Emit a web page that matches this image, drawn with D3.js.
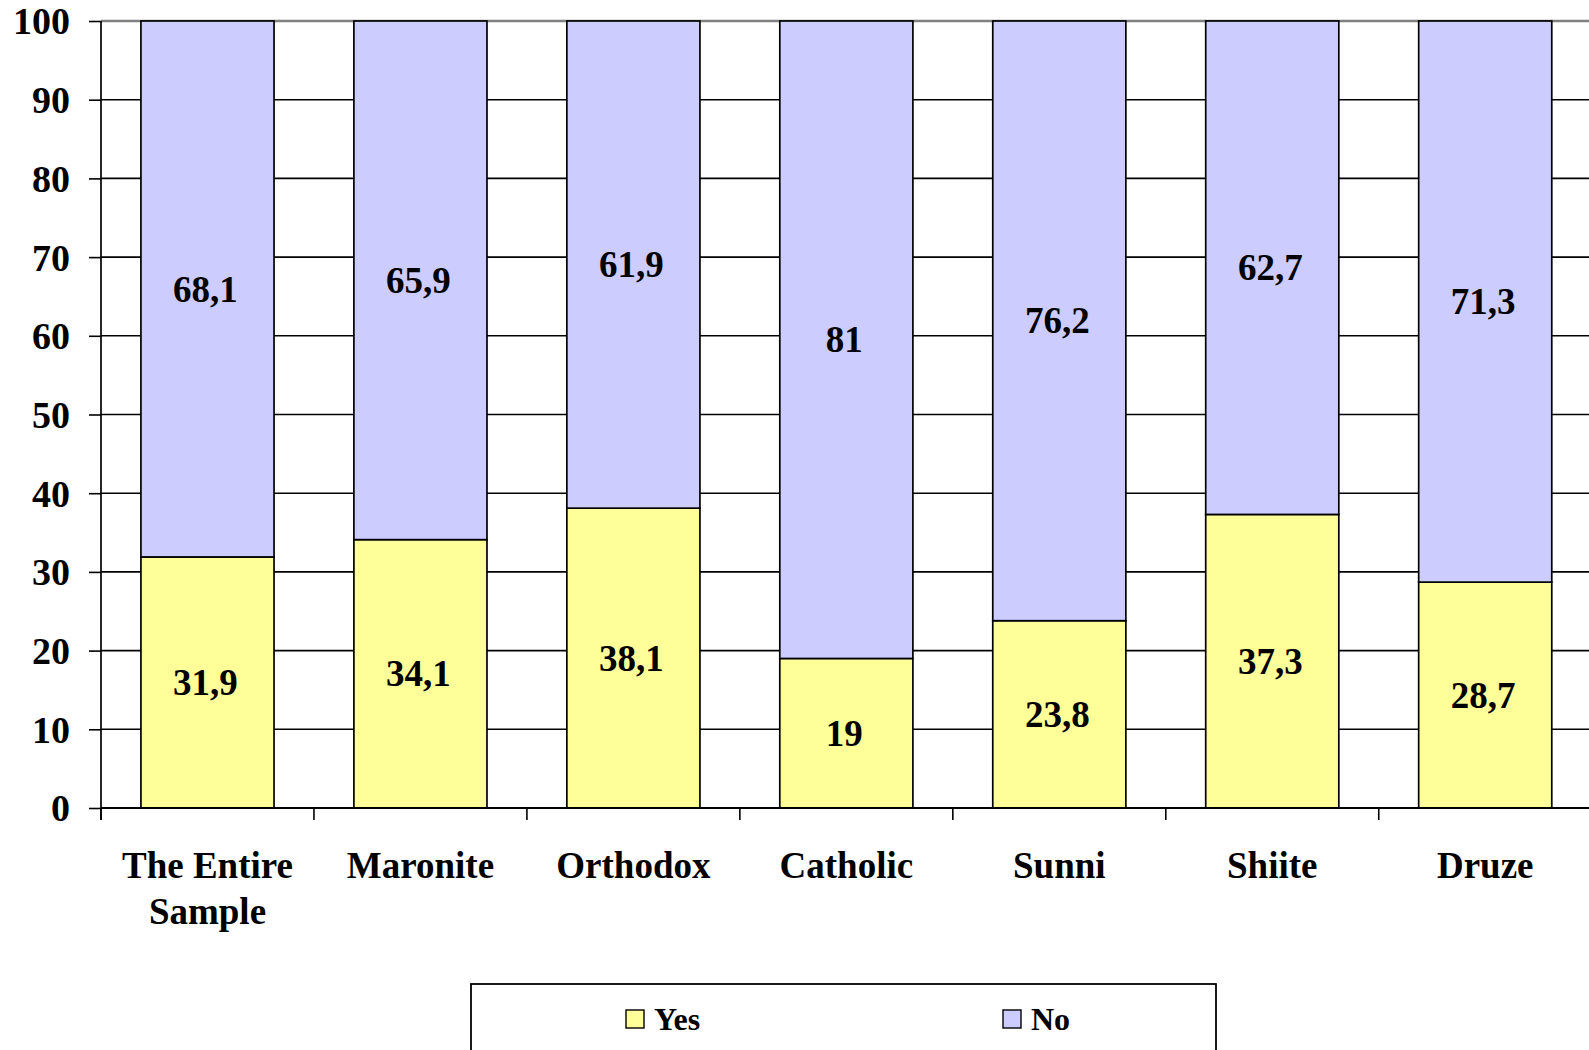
<!DOCTYPE html>
<html>
<head>
<meta charset="utf-8">
<script src="https://cdn.jsdelivr.net/npm/d3@7"></script>
<style>
  html, body { margin: 0; padding: 0; background: #fff; }
  svg { display: block; }
  text { font-family: "Liberation Serif", "Times New Roman", serif; font-weight: bold; fill: #000; }
</style>
</head>
<body>
<svg id="chart" width="1589" height="1050"></svg>
<script>
const categories = ["The Entire Sample", "Maronite", "Orthodox", "Catholic", "Sunni", "Shiite", "Druze"];
const yesValues = [31.9, 34.1, 38.1, 19, 23.8, 37.3, 28.7];
const noValues = [68.1, 65.9, 61.9, 81, 76.2, 62.7, 71.3];
const seriesNames = ["Yes", "No"];
const seriesColors = ["#FFFF99", "#CCCCFF"];
const yTicks = [0, 10, 20, 30, 40, 50, 60, 70, 80, 90, 100];

(function () {
const svg = d3.select("#chart");
const pLeft = 101, pRight = 1591.7, pTop = 21, pBottom = 808;

const x = d3.scaleBand().domain(categories).range([pLeft, pRight]).paddingInner(0.375).paddingOuter(0.1875);
const y = d3.scaleLinear().domain([0, 100]).range([pBottom, pTop]);
const step = x.step();

// gridlines
svg.append("g").selectAll("line").data(yTicks).join("line")
  .attr("x1", pLeft).attr("x2", 1589)
  .attr("y1", d => y(d)).attr("y2", d => y(d))
  .attr("stroke", d => d === 100 ? "#808080" : "#000")
  .attr("stroke-width", d => d === 100 ? 2.5 : 1.6);

// stacked bars
const rows = categories.map((c, i) => ({ cat: c, Yes: yesValues[i], No: noValues[i] }));
const stack = d3.stack().keys(seriesNames)(rows);
const color = d3.scaleOrdinal().domain(seriesNames).range(seriesColors);

const fmt = v => String(v).replace(".", ",");

stack.forEach(layer => {
  const g = svg.append("g");
  g.selectAll("rect").data(layer).join("rect")
    .attr("x", d => x(d.data.cat))
    .attr("width", x.bandwidth())
    .attr("y", d => y(d[1]))
    .attr("height", d => y(d[0]) - y(d[1]))
    .attr("fill", color(layer.key))
    .attr("stroke", "#000")
    .attr("stroke-width", 1.7);
  g.selectAll("text").data(layer).join("text")
    .attr("x", d => x(d.data.cat) + x.bandwidth() / 2 - 2)
    .attr("y", d => y((d[0] + d[1]) / 2))
    .attr("dy", "0.34em")
    .attr("text-anchor", "middle")
    .style("font-size", "37px")
    .text(d => fmt(d.data[layer.key]));
});

// y axis
const yAxis = d3.axisLeft(y).tickValues(yTicks).tickSize(12).tickPadding(19).tickFormat(d3.format("d"));
const gy = svg.append("g").attr("transform", `translate(${pLeft},0)`).call(yAxis);
gy.select(".domain").attr("d", `M0,${pTop}V${pBottom + 12}`).attr("stroke", "#000").attr("stroke-width", 1.7);
gy.selectAll(".tick line").attr("stroke", "#000").attr("stroke-width", 1.6);
gy.selectAll(".tick text").style("font-size", "38px").style("font-family", "Liberation Serif").style("font-weight", "bold").attr("dy", "0.34em");

// x axis line and ticks at category boundaries
svg.append("line").attr("x1", pLeft).attr("x2", 1589).attr("y1", pBottom).attr("y2", pBottom)
  .attr("stroke", "#000").attr("stroke-width", 1.8);
const boundaries = categories.map(c => x(c) - x.paddingOuter() * step);
svg.append("g").selectAll("line").data(boundaries).join("line")
  .attr("x1", d => d).attr("x2", d => d).attr("y1", pBottom).attr("y2", pBottom + 12)
  .attr("stroke", "#000").attr("stroke-width", 1.6);

// category labels with wrapping
const labelG = svg.append("g");
categories.forEach(c => {
  const cx = x(c) + x.bandwidth() / 2;
  const t = labelG.append("text")
    .attr("x", cx)
    .attr("y", 878)
    .attr("text-anchor", "middle")
    .style("font-size", "37px");
  const words = c.split(" ");
  let line = [];
  let lineNo = 0;
  let tspan = t.append("tspan").attr("x", cx).attr("y", 878);
  words.forEach(w => {
    line.push(w);
    tspan.text(line.join(" "));
    if (tspan.node().getComputedTextLength() > step - 20 && line.length > 1) {
      line.pop();
      tspan.text(line.join(" "));
      line = [w];
      lineNo++;
      tspan = t.append("tspan").attr("x", cx).attr("y", 878 + lineNo * 46).text(w);
    }
  });
});

// legend
const lg = svg.append("g");
lg.append("rect").attr("x", 471).attr("y", 984).attr("width", 745).attr("height", 80)
  .attr("fill", "#fff").attr("stroke", "#000").attr("stroke-width", 1.8);
const legendX = [626, 1003];
seriesNames.forEach((s, i) => {
  lg.append("rect").attr("x", legendX[i]).attr("y", 1010).attr("width", 18).attr("height", 18)
    .attr("fill", seriesColors[i]).attr("stroke", "#000").attr("stroke-width", 1.4);
  lg.append("text").attr("x", legendX[i] + 28).attr("y", 1030)
    .style("font-size", "32px").text(s);
});
})();
</script>
</body>
</html>
